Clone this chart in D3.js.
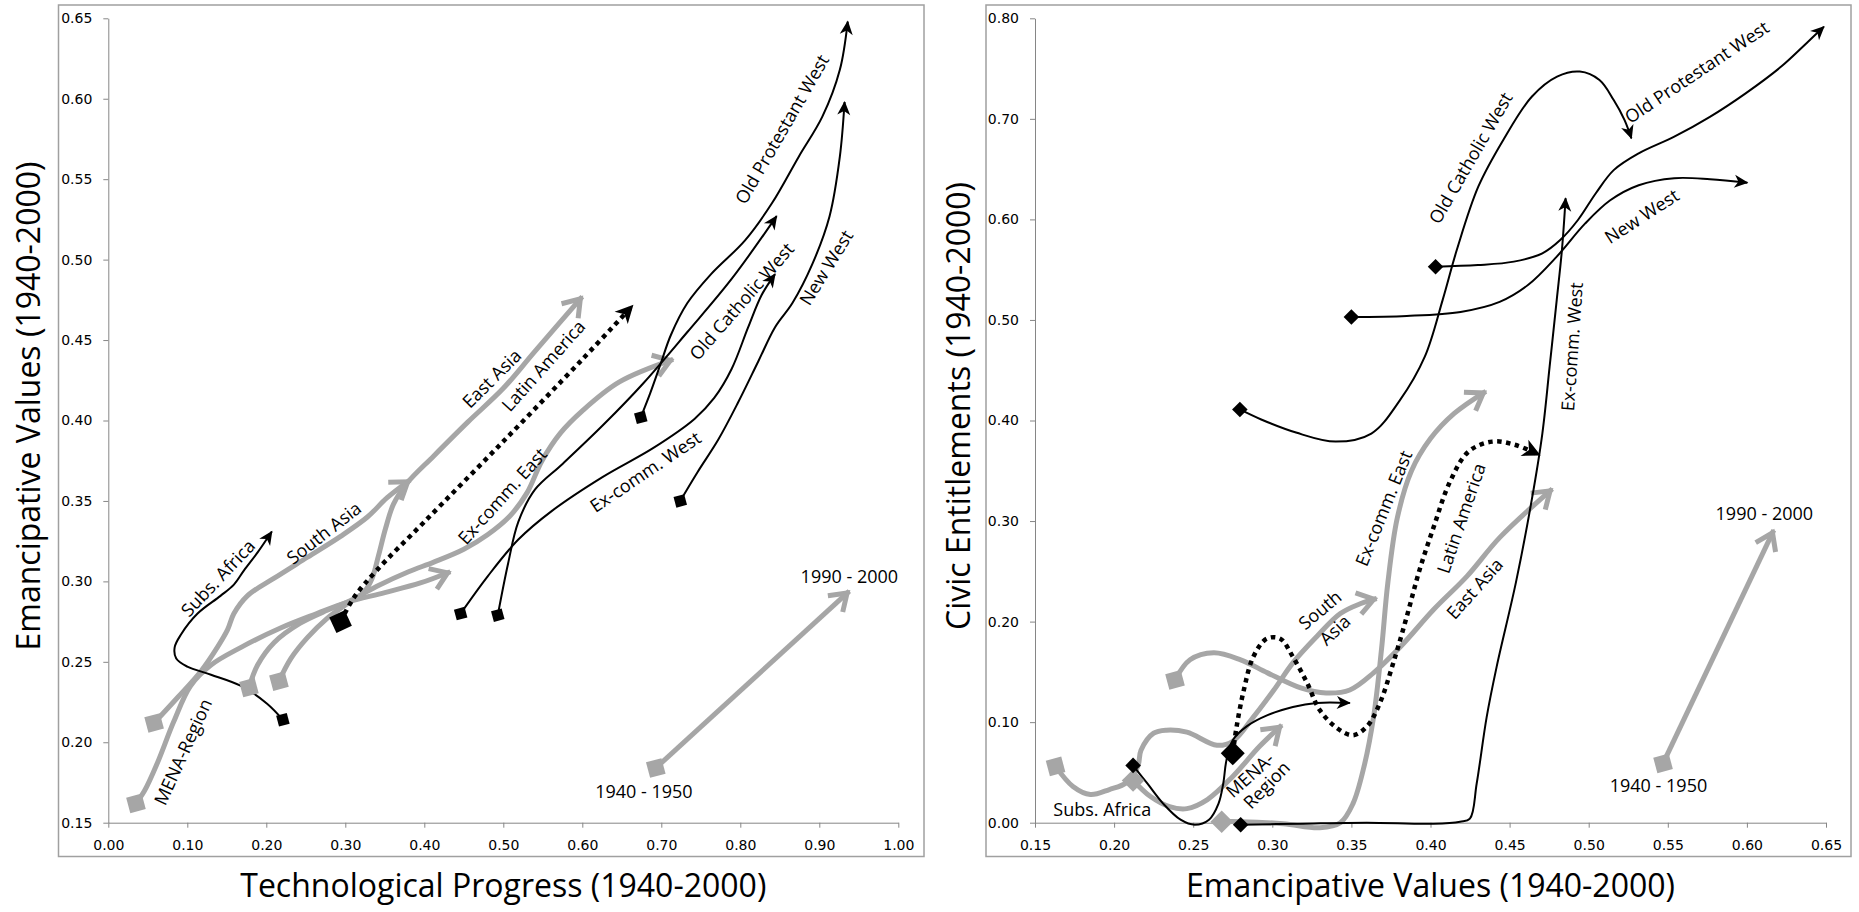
<!DOCTYPE html>
<html>
<head>
<meta charset="utf-8">
<title>Emancipative values, technology and civic entitlements</title>
<script src="https://cdn.jsdelivr.net/npm/d3@7/dist/d3.min.js"></script>
<style>
  body { margin: 0; background: #fff; }
  .tick text { font-family: 'DejaVu Sans', sans-serif; font-size: 14px; fill: #000; }
  .domain, .tick line { stroke: #868686; }
  .lbl, .title { font-family: 'Open Sans', sans-serif; fill: #000; }
</style>
</head>
<body>
<svg id="chart" width="1859" height="912"></svg>
<script>
// tick values
const leftXTicks = [0, 0.1, 0.2, 0.3, 0.4, 0.5, 0.6, 0.7, 0.8, 0.9, 1.0];
const leftYTicks = [0.15, 0.2, 0.25, 0.3, 0.35, 0.4, 0.45, 0.5, 0.55, 0.6, 0.65];
const rightXTicks = [0.15, 0.2, 0.25, 0.3, 0.35, 0.4, 0.45, 0.5, 0.55, 0.6, 0.65];
const rightYTicks = [0, 0.1, 0.2, 0.3, 0.4, 0.5, 0.6, 0.7, 0.8];

// left panel: [technological progress, emancipative values], 1940 -> 2000
const techSubsAfrica = [[0.221, 0.214], [0.201, 0.224], [0.168, 0.235], [0.13, 0.242], [0.1, 0.247], [0.086, 0.252], [0.084, 0.259], [0.092, 0.267], [0.113, 0.28], [0.142, 0.291], [0.159, 0.298], [0.172, 0.307], [0.189, 0.318], [0.207, 0.331]];
const techSouthAsia = [[0.058, 0.212], [0.088, 0.228], [0.117, 0.244], [0.138, 0.259], [0.151, 0.27], [0.159, 0.28], [0.176, 0.291], [0.21, 0.302], [0.252, 0.315], [0.294, 0.328], [0.328, 0.34], [0.353, 0.352], [0.382, 0.363]];
const techMena = [[0.035, 0.162], [0.046, 0.17], [0.062, 0.187], [0.083, 0.213], [0.104, 0.235], [0.13, 0.248], [0.168, 0.259], [0.218, 0.271], [0.264, 0.28], [0.302, 0.287], [0.35, 0.293], [0.395, 0.299], [0.433, 0.306]];
const techExCommEast = [[0.178, 0.234], [0.189, 0.248], [0.21, 0.262], [0.243, 0.274], [0.277, 0.282], [0.302, 0.287], [0.34, 0.297], [0.38, 0.306], [0.412, 0.312], [0.45, 0.32], [0.48, 0.329], [0.509, 0.341], [0.53, 0.355], [0.549, 0.375], [0.572, 0.392], [0.6, 0.406], [0.647, 0.424], [0.715, 0.438]];
const techEastAsia = [[0.216, 0.238], [0.231, 0.252], [0.252, 0.265], [0.277, 0.277], [0.302, 0.286], [0.323, 0.293], [0.334, 0.302], [0.342, 0.316], [0.351, 0.333], [0.361, 0.348], [0.378, 0.361], [0.412, 0.378], [0.455, 0.399], [0.5, 0.42], [0.54, 0.443], [0.6, 0.477]];
const techLatinAmerica = [[0.294, 0.275], [0.311, 0.29], [0.34, 0.307], [0.4, 0.337], [0.5, 0.387], [0.6, 0.438], [0.663, 0.471]];
const techOldProtestant = [[0.674, 0.402], [0.686, 0.417], [0.699, 0.435], [0.712, 0.453], [0.733, 0.473], [0.763, 0.491], [0.806, 0.512], [0.84, 0.535], [0.874, 0.564], [0.904, 0.589], [0.926, 0.618], [0.936, 0.648]];
const techOldCatholic = [[0.493, 0.279], [0.506, 0.311], [0.519, 0.337], [0.54, 0.357], [0.575, 0.373], [0.626, 0.397], [0.677, 0.423], [0.733, 0.455], [0.789, 0.488], [0.846, 0.527]];
const techExCommWest = [[0.446, 0.28], [0.48, 0.303], [0.519, 0.326], [0.562, 0.344], [0.626, 0.365], [0.69, 0.383], [0.742, 0.401], [0.767, 0.414], [0.789, 0.432], [0.81, 0.458], [0.827, 0.478], [0.844, 0.491]];
const techNewWest = [[0.724, 0.35], [0.746, 0.368], [0.772, 0.388], [0.797, 0.411], [0.823, 0.437], [0.844, 0.458], [0.866, 0.473], [0.891, 0.497], [0.913, 0.527], [0.926, 0.564], [0.932, 0.598]];
const techLegend = [[0.693, 0.184], [0.938, 0.294]];

// right panel: [emancipative values, civic entitlements], 1940 -> 2000
const civSubsAfrica = [[0.212, 0.057], [0.221, 0.039], [0.231, 0.019], [0.242, 0.003], [0.251, -0.002], [0.26, 0.003], [0.266, 0.019], [0.269, 0.039], [0.271, 0.062], [0.275, 0.082], [0.284, 0.096], [0.297, 0.107], [0.313, 0.115], [0.328, 0.119], [0.349, 0.119]];
const civSouthAsia = [[0.163, 0.056], [0.174, 0.036], [0.185, 0.028], [0.197, 0.033], [0.208, 0.04], [0.215, 0.056], [0.217, 0.072], [0.225, 0.089], [0.233, 0.092], [0.246, 0.09], [0.265, 0.077], [0.275, 0.081], [0.288, 0.105], [0.301, 0.132], [0.313, 0.159], [0.328, 0.185], [0.343, 0.208], [0.356, 0.218], [0.366, 0.223]];
const civMena = [[0.212, 0.042], [0.223, 0.026], [0.235, 0.016], [0.246, 0.014], [0.259, 0.023], [0.275, 0.046], [0.292, 0.076], [0.306, 0.097]];
const civEastAsia = [[0.2385, 0.142], [0.248, 0.162], [0.263, 0.169], [0.28, 0.162], [0.297, 0.149], [0.318, 0.134], [0.334, 0.129], [0.349, 0.132], [0.364, 0.149], [0.381, 0.175], [0.402, 0.212], [0.423, 0.245], [0.444, 0.284], [0.477, 0.332]];
const civExCommEast = [[0.268, 0.001], [0.28, 0.001], [0.307, -0.001], [0.33, -0.005], [0.343, 0], [0.351, 0.019], [0.358, 0.056], [0.364, 0.105], [0.369, 0.172], [0.373, 0.238], [0.379, 0.303], [0.388, 0.35], [0.4, 0.382], [0.415, 0.407], [0.435, 0.429]];
const civLatinAmerica = [[0.275, 0.069], [0.2775, 0.096], [0.282, 0.132], [0.288, 0.165], [0.2965, 0.183], [0.305, 0.183], [0.313, 0.165], [0.322, 0.139], [0.33, 0.112], [0.341, 0.094], [0.351, 0.087], [0.36, 0.096], [0.368, 0.119], [0.3765, 0.159], [0.385, 0.205], [0.393, 0.251], [0.402, 0.294], [0.412, 0.338], [0.424, 0.369], [0.439, 0.379], [0.453, 0.376], [0.4685, 0.366]];
const civOldCatholic = [[0.2795, 0.411], [0.293, 0.401], [0.315, 0.388], [0.34, 0.379], [0.3626, 0.387], [0.3806, 0.42], [0.3964, 0.4635], [0.4077, 0.52], [0.4167, 0.57], [0.4302, 0.6325], [0.446, 0.679], [0.464, 0.722], [0.48, 0.742], [0.4944, 0.747], [0.5068, 0.7386], [0.5158, 0.7187], [0.5226, 0.699], [0.527, 0.6806]];
const civOldProtestant = [[0.4032, 0.553], [0.43, 0.5546], [0.4527, 0.558], [0.4707, 0.5663], [0.482, 0.5795], [0.4932, 0.5994], [0.5045, 0.626], [0.5158, 0.649], [0.5316, 0.6657], [0.5541, 0.6823], [0.5766, 0.702], [0.5992, 0.7254], [0.6217, 0.752], [0.6375, 0.775], [0.6487, 0.7917]];
const civNewWest = [[0.35, 0.503], [0.385, 0.504], [0.419, 0.508], [0.4437, 0.518], [0.4618, 0.535], [0.4798, 0.563], [0.4978, 0.596], [0.5136, 0.619], [0.5316, 0.634], [0.5541, 0.641], [0.5767, 0.64], [0.6003, 0.6365]];
const civExCommWest = [[0.28, -0.002], [0.3175, -0.001], [0.3597, 0], [0.4018, -0.001], [0.4187, 0.001], [0.4249, 0.004], [0.4292, 0.039], [0.4355, 0.105], [0.4418, 0.155], [0.454, 0.239], [0.464, 0.321], [0.4707, 0.387], [0.4753, 0.4535], [0.4798, 0.52], [0.4831, 0.57], [0.4854, 0.621]];
const civLegend = [[0.547, 0.059], [0.617, 0.291]];

// annotations: text, x, y (data units), angle
const leftLabels = [
  ['Subs. Africa', 0.139, 0.302, -46.5],
  ['South Asia', 0.273, 0.33, -38],
  ['East Asia', 0.4855, 0.426, -44.7],
  ['Latin America', 0.551, 0.434, -48.2],
  ['Ex-comm. East', 0.499, 0.353, -48],
  ['MENA-Region', 0.0947, 0.194, -65.6],
  ['Ex-comm. West', 0.68, 0.368, -34],
  ['Old Catholic West', 0.802, 0.474, -49],
  ['Old Protestant West', 0.853, 0.581, -60],
  ['New West', 0.909, 0.495, -58],
  ['1990 - 2000', 0.938, 0.303, 0],
  ['1940 - 1950', 0.678, 0.169, 0]
];
const rightLabels = [
  ['Old Catholic West', 0.4255, 0.661, -60],
  ['Old Protestant West', 0.5684, 0.7465, -33.7],
  ['New West', 0.5336, 0.603, -33],
  ['Ex-comm. West', 0.4895, 0.4734, -86],
  ['Ex-comm. East', 0.3705, 0.3127, -68],
  ['Latin America', 0.4195, 0.3027, -71],
  ['East Asia', 0.428, 0.2327, -48],
  ['South', 0.3302, 0.2115, -40],
  ['Asia', 0.3396, 0.1916, -43],
  ['MENA-', 0.2859, 0.0474, -42],
  ['Region', 0.2965, 0.0375, -46],
  ['Subs. Africa', 0.1925, 0.0126, 0],
  ['1990 - 2000', 0.611, 0.3072, 0],
  ['1940 - 1950', 0.5441, 0.0365, 0]
];

const leftSeries = [
  { pts: techMena, kind: 'gray', start: 'square' },
  { pts: techSouthAsia, kind: 'gray', start: 'square' },
  { pts: techExCommEast, kind: 'gray', start: 'square' },
  { pts: techEastAsia, kind: 'gray', start: 'square' },
  { pts: techLegend, kind: 'gray', start: 'square' },
  { pts: techSubsAfrica, kind: 'black', start: 'square' },
  { pts: techOldProtestant, kind: 'black', start: 'square' },
  { pts: techOldCatholic, kind: 'black', start: 'square' },
  { pts: techExCommWest, kind: 'black', start: 'square' },
  { pts: techNewWest, kind: 'black', start: 'square' },
  { pts: techLatinAmerica, kind: 'dotted', start: 'square' }
];
const rightSeries = [
  { pts: civSouthAsia, kind: 'gray', start: 'square' },
  { pts: civMena, kind: 'gray', start: 'diamond' },
  { pts: civEastAsia, kind: 'gray', start: 'square' },
  { pts: civExCommEast, kind: 'gray', start: 'diamond' },
  { pts: civLegend, kind: 'gray', start: 'square' },
  { pts: civSubsAfrica, kind: 'black', start: 'diamond' },
  { pts: civOldCatholic, kind: 'black', start: 'diamond' },
  { pts: civOldProtestant, kind: 'black', start: 'diamond' },
  { pts: civNewWest, kind: 'black', start: 'diamond' },
  { pts: civExCommWest, kind: 'black', start: 'diamond' },
  { pts: civLatinAmerica, kind: 'dotted', start: 'diamond' }
];

const GRAY = '#a6a6a6';
const svg = d3.select('#chart');
const defs = svg.append('defs');

function arrowMarker(id, d, fill, stroke, sw) {
  defs.append('marker')
    .attr('id', id)
    .attr('viewBox', '-30 -15 34 30')
    .attr('refX', 0)
    .attr('refY', 0)
    .attr('markerWidth', 34)
    .attr('markerHeight', 30)
    .attr('markerUnits', 'userSpaceOnUse')
    .attr('orient', 'auto')
    .style('overflow', 'visible')
    .append('path')
    .attr('d', d)
    .attr('fill', fill)
    .attr('stroke', stroke)
    .attr('stroke-width', sw)
    .attr('stroke-linejoin', 'miter');
}
arrowMarker('arrow-black', 'M1,0L-13,-6.5L-9,0L-13,6.5Z', '#000', 'none', 0);
arrowMarker('arrow-dot', 'M2,0L-16,-9L-11,0L-16,9Z', '#000', 'none', 0);
arrowMarker('arrow-gray', 'M-19,-11L-3,0L-19,11', 'none', GRAY, 5);

const styles = {
  gray: { stroke: GRAY, width: 5, dash: null, marker: 'arrow-gray' },
  black: { stroke: '#000', width: 2, dash: null, marker: 'arrow-black' },
  dotted: { stroke: '#000', width: 4.5, dash: '4.5,4.5', marker: 'arrow-dot' }
};

function drawPanel(p) {
  const g = svg.append('g');
  const x = d3.scaleLinear().domain(p.xDomain).range([p.plot.left, p.plot.right]);
  const y = d3.scaleLinear().domain(p.yDomain).range([p.plot.bottom, p.plot.top]);

  // outer frame
  g.append('rect')
    .attr('x', p.box.x)
    .attr('y', p.box.y)
    .attr('width', p.box.w)
    .attr('height', p.box.h)
    .attr('fill', 'none')
    .attr('stroke', '#a0a0a0')
    .attr('stroke-width', 1.5);

  g.append('g')
    .attr('transform', `translate(0,${p.plot.bottom})`)
    .call(d3.axisBottom(x).tickValues(p.xTicks).tickFormat(d3.format('.2f'))
      .tickSizeInner(5).tickSizeOuter(0).tickPadding(12));
  g.append('g')
    .attr('transform', `translate(${p.plot.left},0)`)
    .call(d3.axisLeft(y).tickValues(p.yTicks).tickFormat(d3.format('.2f'))
      .tickSizeInner(5).tickSizeOuter(0).tickPadding(11));

  // axis titles
  g.append('text')
    .attr('class', 'title')
    .attr('x', (p.plot.left + p.plot.right) / 2)
    .attr('y', 897)
    .attr('text-anchor', 'middle')
    .attr('font-size', 32)
    .text(p.xTitle);
  g.append('text')
    .attr('class', 'title')
    .attr('transform', `translate(${p.yTitleX},406) rotate(-90)`)
    .attr('text-anchor', 'middle')
    .attr('font-size', 32)
    .text(p.yTitle);

  const line = d3.line()
    .x((d) => x(d[0]))
    .y((d) => y(d[1]))
    .curve(d3.curveCatmullRom.alpha(0.5));

  p.series.forEach((s) => {
    const st = styles[s.kind];
    g.append('path')
      .datum(s.pts)
      .attr('fill', 'none')
      .attr('stroke', st.stroke)
      .attr('stroke-width', st.width)
      .attr('stroke-dasharray', st.dash)
      .attr('marker-end', `url(#${st.marker})`)
      .attr('d', line);
  });

  // start markers (1940 position)
  p.series.forEach((s) => {
    const side = s.kind === 'gray' ? 16 : s.kind === 'dotted' ? 17 : 11;
    let angle = s.start === 'diamond' ? 45 : -15;
    if (s.kind === 'dotted' && s.start === 'square') angle = -25;
    g.append('path')
      .attr('d', d3.symbol(d3.symbolSquare, side * side)())
      .attr('transform', `translate(${x(s.pts[0][0])},${y(s.pts[0][1])}) rotate(${angle})`)
      .attr('fill', s.kind === 'gray' ? GRAY : '#000');
  });

  g.selectAll('text.lbl')
    .data(p.labels)
    .enter()
    .append('text')
    .attr('class', 'lbl')
    .attr('font-size', 18)
    .attr('text-anchor', 'middle')
    .attr('dy', '0.35em')
    .attr('transform', (d) => `translate(${x(d[1])},${y(d[2])}) rotate(${d[3]})`)
    .text((d) => d[0]);
}

drawPanel({
  box: { x: 58.5, y: 5, w: 865.5, h: 851.5 },
  plot: { left: 108.3, right: 898.3, top: 18.3, bottom: 822.7 },
  xDomain: [0, 1],
  yDomain: [0.15, 0.65],
  xTicks: leftXTicks,
  yTicks: leftYTicks,
  xTitle: 'Technological Progress (1940-2000)',
  yTitle: 'Emancipative Values (1940-2000)',
  yTitleX: 40,
  series: leftSeries,
  labels: leftLabels
});

drawPanel({
  box: { x: 986, y: 5, w: 865, h: 851.5 },
  plot: { left: 1035, right: 1826, top: 18.3, bottom: 822.7 },
  xDomain: [0.15, 0.65],
  yDomain: [0, 0.8],
  xTicks: rightXTicks,
  yTicks: rightYTicks,
  xTitle: 'Emancipative Values (1940-2000)',
  yTitle: 'Civic Entitlements (1940-2000)',
  yTitleX: 970,
  series: rightSeries,
  labels: rightLabels
});
</script>
</body>
</html>
